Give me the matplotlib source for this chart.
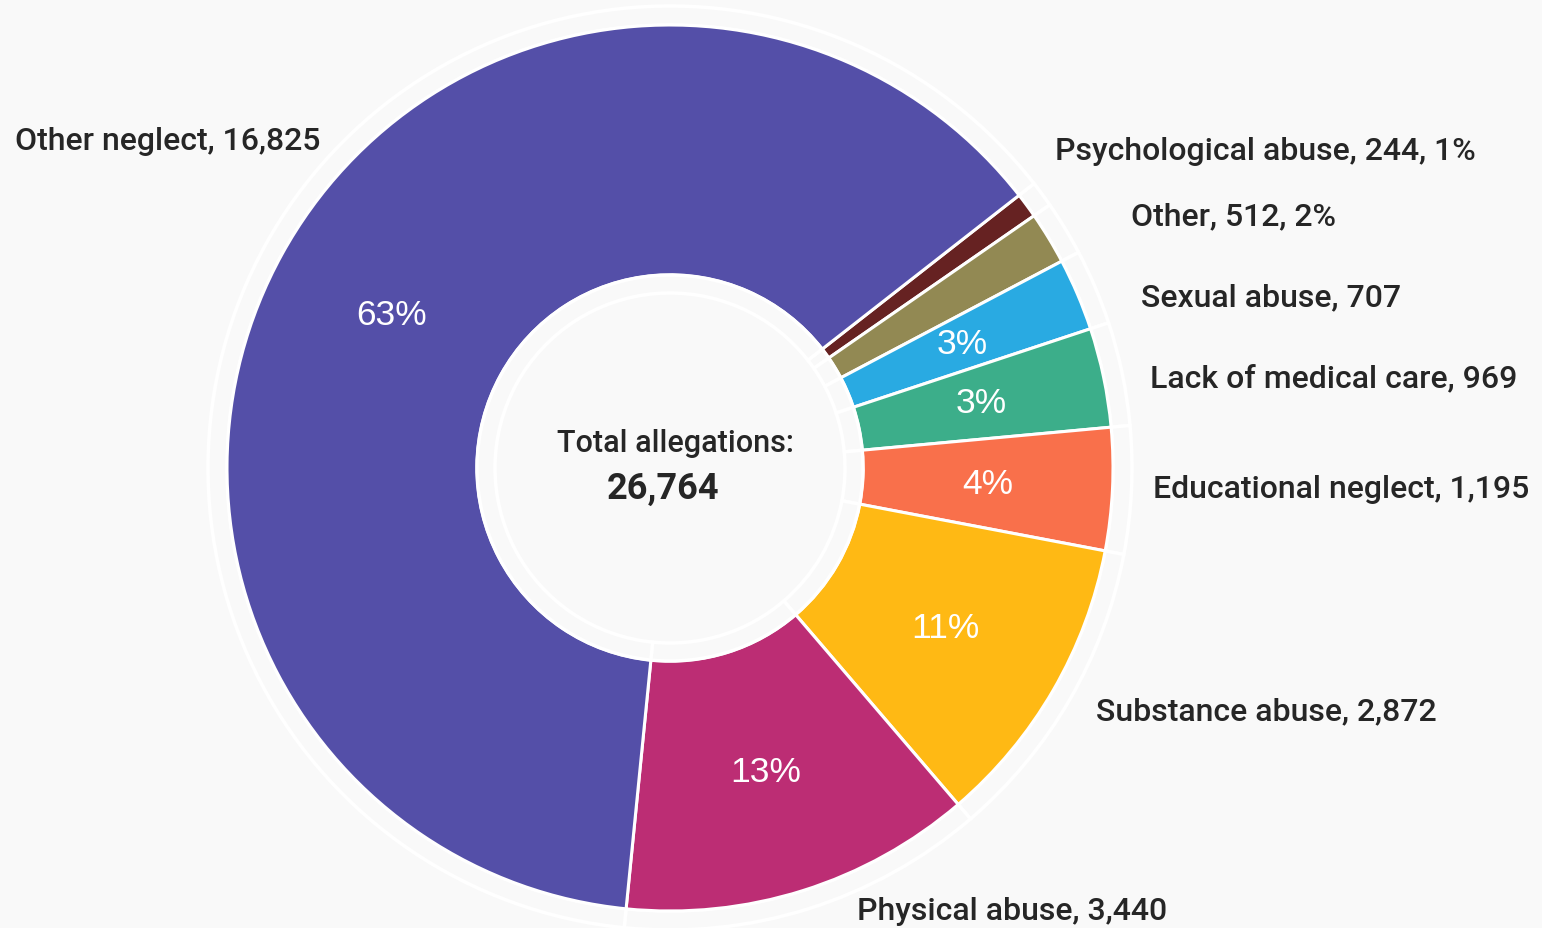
import numpy as np
import matplotlib.pyplot as plt

categorias = ['Psychological abuse', 'Other', 'Sexual abuse', 'Lack of medical care',
              'Educational neglect', 'Substance abuse', 'Physical abuse', 'Other neglect']
valores = [244, 512, 707, 969, 1195, 2872, 3440, 16825]
pct_texto = ['1%', '2%', '3%', '3%', '4%', '11%', '13%', '63%']
pct_dentro = [False, False, True, True, True, True, True, True]
cores = ['#662222', '#928953', '#29aae2', '#3cae8a', '#f9704b', '#ffb914', '#bc2d74', '#544fa8']

# posicao dos rotulos externos (pixels, origem no topo) e alinhamento
pos_rotulos = [(1055, 151), (1131, 217), (1141, 298), (1150, 379),
               (1153, 489), (1096, 712), (857, 912), (320, 141)]
alinh_rotulos = ['left'] * 7 + ['right']

fundo = '#f9f9f9'
texto_cor = '#262626'
fonte = 'Roboto'
W, H = 1542, 929
centro = (670, H - 469)

fig = plt.figure(figsize=(W / 100, H / 100), dpi=100, facecolor=fundo)
ax = fig.add_axes([0, 0, 1, 1])
ax.set_facecolor(fundo)

# anel externo vazio
ax.pie(valores, center=centro, radius=462, startangle=38, counterclock=False,
       colors=[fundo] * len(valores),
       wedgeprops=dict(width=19, edgecolor='white', linewidth=2.5))

# anel principal
cunhas, _ = ax.pie(valores, center=centro, radius=443, startangle=38, counterclock=False,
                   colors=cores, wedgeprops=dict(width=250, edgecolor='white', linewidth=2.2))

# anel interno vazio
ax.pie(valores, center=centro, radius=193, startangle=38, counterclock=False,
       colors=[fundo] * len(valores),
       wedgeprops=dict(width=18, edgecolor='white', linewidth=2.5))

r_meio = 318
for w, t, dentro in zip(cunhas, pct_texto, pct_dentro):
    if not dentro:
        continue
    ang = np.deg2rad((w.theta1 + w.theta2) / 2)
    ax.text(centro[0] + r_meio * np.cos(ang), centro[1] + r_meio * np.sin(ang), t,
            ha='center', va='center', color='white', fontsize=25.5, family='Liberation Sans')

for nome, v, t, dentro, (x, y), ha in zip(categorias, valores, pct_texto, pct_dentro,
                                          pos_rotulos, alinh_rotulos):
    rotulo = f'{nome}, {v:,}' if dentro else f'{nome}, {v:,}, {t}'
    ax.text(x, H - y, rotulo, ha=ha, va='center', color=texto_cor, fontsize=23,
            family=fonte, fontweight='medium')

total = sum(valores)
ax.text(675, H - 443, 'Total allegations:', ha='center', va='center', color=texto_cor,
        fontsize=22, family=fonte, fontweight='medium')
ax.text(663, H - 489, f'{total:,}', ha='center', va='center', color=texto_cor,
        fontsize=26, family=fonte, fontweight='bold')

ax.set_xlim(0, W)
ax.set_ylim(0, H)
ax.set_aspect('equal')
ax.axis('off')

plt.savefig('out.png', dpi=100, facecolor=fundo)
